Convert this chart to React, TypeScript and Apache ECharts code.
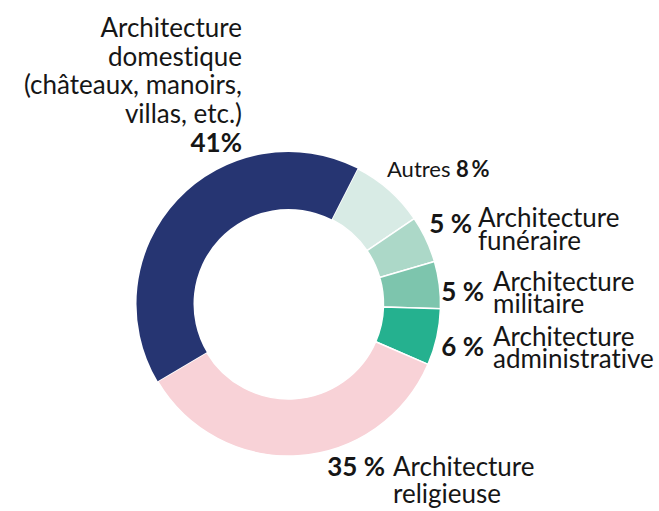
import React, { useEffect, useRef } from "react";
import * as echarts from "echarts";

// Data (clockwise, starting from "Autres")
const categories = [
  "Autres",
  "Architecture funéraire",
  "Architecture militaire",
  "Architecture administrative",
  "Architecture religieuse",
  "Architecture domestique (châteaux, manoirs, villas, etc.)",
];
const values = [8, 5, 5, 6, 35, 41];
const percentLabels = ["8\u2009%", "5 %", "5 %", "6 %", "35 %", "41%"];
const nameLines = [
  ["Autres"],
  ["Architecture", "funéraire"],
  ["Architecture", "militaire"],
  ["Architecture", "administrative"],
  ["Architecture", "religieuse"],
  ["Architecture", "domestique", "(châteaux, manoirs,", "villas, etc.)"],
];

const colors = ["#d8ebe5", "#acd8c8", "#7dc5ad", "#25b18f", "#f8d2d7", "#263572"];
const FONT = "Lato, 'Open Sans', sans-serif";
const TEXT = "#161616";
const C = 0.387; // baseline offset from central baseline, in em

function block(lines: string[], x: number, firstBaseline: number, lh: number, align: string, bold: boolean, size: number) {
  return {
    type: "text",
    x,
    y: firstBaseline - C * size - lh / 2,
    silent: true,
    style: {
      text: lines.join("\n"),
      x: 0,
      y: 0,
      font: `${bold ? 700 : 400} ${size}px ${FONT}`,
      fill: TEXT,
      align,
      verticalAlign: "top",
      lineHeight: lh,
    },
  };
}

export default function App() {
  const ref = useRef<HTMLDivElement>(null);
  useEffect(() => {
    if (!ref.current) return;
    const chart = echarts.init(ref.current, undefined, { renderer: "svg" });
    const big = 26;
    const small = 22;
    const graphics: any[] = [];
    // Domestic (top-left), right aligned
    graphics.push(block(nameLines[5], 242, 37, 28.7, "right", false, big));
    graphics.push(block([percentLabels[5]], 242, 152, 28.7, "right", true, big));
    // Autres
    graphics.push({
      type: "text",
      x: 387,
      y: 177 - C * small - 13,
      silent: true,
      style: {
        text: `{n|${nameLines[0][0]} }{b|${percentLabels[0]}}`,
        verticalAlign: "top",
        align: "left",
        rich: {
          n: { fontSize: small, fontFamily: FONT, fontWeight: 400, color: TEXT, fill: TEXT, lineHeight: 26 },
          b: { fontSize: small, fontFamily: FONT, fontWeight: 700, color: TEXT, fill: TEXT, lineHeight: 26 },
        },
      },
    });
    // Right side two-line labels
    const rightSpecs = [
      { idx: 1, pctX: 472, pctBase: 233, textX: 478, b1: 227, lh: 23 },
      { idx: 2, pctX: 484, pctBase: 301, textX: 493, b1: 291, lh: 22 },
      { idx: 3, pctX: 484, pctBase: 356, textX: 493, b1: 346, lh: 22 },
    ];
    rightSpecs.forEach((s) => {
      graphics.push(block([percentLabels[s.idx]], s.pctX, s.pctBase, 26, "right", true, big));
      graphics.push(block(nameLines[s.idx], s.textX, s.b1, s.lh, "left", false, big));
    });
    // Religious
    graphics.push(block([percentLabels[4]], 385, 476, 27, "right", true, big));
    graphics.push(block(nameLines[4], 393, 476, 27, "left", false, big));

    chart.setOption({
      animation: false,
      graphic: graphics,
      series: [
        {
          type: "pie",
          center: [288.5, 304],
          radius: [95, 152],
          startAngle: 63,
          clockwise: true,
          label: { show: false },
          labelLine: { show: false },
          emphasis: { disabled: true },
          data: categories.map((name, i) => ({
            name,
            value: values[i],
            itemStyle: {
              color: colors[i],
              borderColor: "#ffffff",
              borderWidth: i === 5 ? 0 : 1.5,
            },
          })),
        },
      ],
    });
    return () => chart.dispose();
  }, []);
  return (
    <>
      <style>{"svg text, svg tspan { font-variant-ligatures: none !important; font-feature-settings: 'liga' 0, 'clig' 0, 'dlig' 0 !important; }"}</style>
      <div
        ref={ref}
        style={{
          position: "absolute",
          left: 0,
          top: 0,
          width: 659,
          height: 511,
          background: "#ffffff",
        }}
      />
    </>
  );
}
